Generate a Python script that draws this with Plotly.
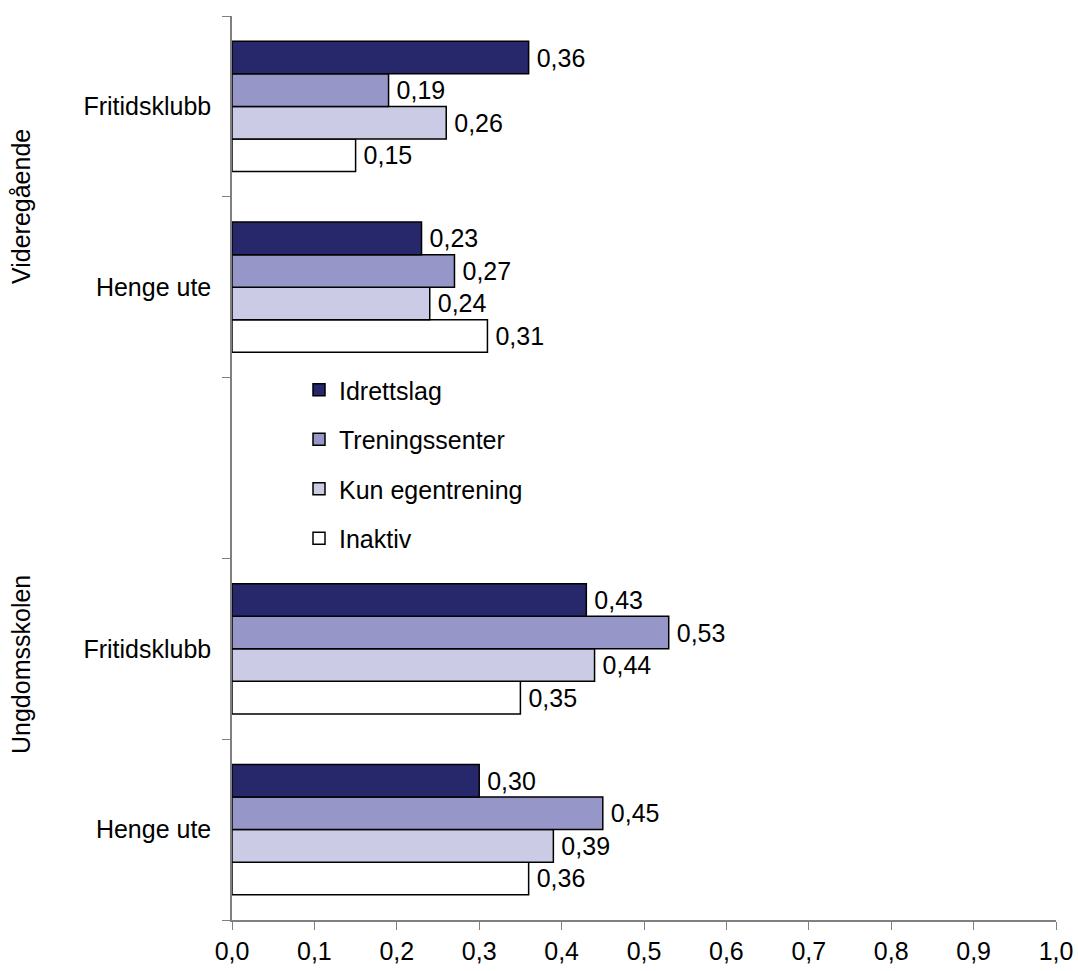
import plotly.graph_objects as go

# Category slots, bottom to top
slot_ids = ["U_Henge", "U_Frit", "gap", "V_Henge", "V_Frit"]
slot_labels = ["Henge ute", "Fritidsklubb", "", "Henge ute", "Fritidsklubb"]
bar_slots = ["U_Henge", "U_Frit", "V_Henge", "V_Frit"]

series_names = ["Idrettslag", "Treningssenter", "Kun egentrening", "Inaktiv"]
idrettslag = [0.30, 0.43, 0.23, 0.36]
treningssenter = [0.45, 0.53, 0.27, 0.19]
kun_egentrening = [0.39, 0.44, 0.24, 0.26]
inaktiv = [0.36, 0.35, 0.31, 0.15]
series_values = [idrettslag, treningssenter, kun_egentrening, inaktiv]
series_colors = ["#27276B", "#9696C8", "#CBCBE6", "#FFFFFF"]

group_labels = ["Videregående", "Ungdomsskolen"]

x_ticks = [0, 0.1, 0.2, 0.3, 0.4, 0.5, 0.6, 0.7, 0.8, 0.9, 1.0]

W, H = 1078, 971
L, R, T, B = 232, 22, 16, 51
FONT = "Liberation Sans, Arial, sans-serif"
FS = 25

fig = go.Figure()
# add bottom-most bar first (Inaktiv) so Idrettslag sits on top in each group
for i in reversed(range(4)):
    fig.add_trace(go.Bar(
        y=bar_slots, x=series_values[i], orientation="h",
        name=series_names[i], legendgroup=series_names[i], legendrank=i + 1,
        marker=dict(color=series_colors[i], line=dict(color="#000000", width=1.5)),
        texttemplate="\u2009%{x:.2f}", textposition="outside",
        textfont=dict(family=FONT, size=FS, color="#000000"),
        cliponaxis=False,
    ))

plot_w = W - L - R
plot_h = H - T - B
def px(pix):
    return (pix - L) / plot_w
def py(pix):
    return 1 - (pix - T) / plot_h

for txt, ypix in zip(group_labels, [207, 665]):
    fig.add_annotation(text=txt, xref="paper", yref="paper",
                       x=px(21), y=py(ypix), textangle=-90,
                       showarrow=False, xanchor="center", yanchor="middle",
                       font=dict(family=FONT, size=FS, color="#000000"))

fig.update_layout(
    width=W, height=H,
    margin=dict(l=L, r=R, t=T, b=B, autoexpand=False),
    paper_bgcolor="white", plot_bgcolor="white",
    barmode="group", bargap=0.28, bargroupgap=0,
    separators=", ",
    font=dict(family=FONT, size=FS, color="#000000"),
    showlegend=True,
    legend=dict(x=px(299), y=py(367), xanchor="left", yanchor="top",
                traceorder="grouped", tracegroupgap=14,
                font=dict(family=FONT, size=FS, color="#000000"),
                bgcolor="rgba(0,0,0,0)"),
    xaxis=dict(range=[0, 1.0], tickvals=x_ticks, tickformat=".1f", automargin=False,
               showgrid=False, zeroline=False, showline=True, linecolor="#808080",
               linewidth=1.5, ticks="outside", ticklen=8, tickcolor="#808080",
               tickfont=dict(family=FONT, size=FS, color="#000000")),
    yaxis=dict(type="category", categoryorder="array", categoryarray=slot_ids,
               tickmode="array", tickvals=slot_ids, ticktext=slot_labels,
               tickson="boundaries", range=[-0.5, 4.5], automargin=False,
               showgrid=False, zeroline=False, showline=True, linecolor="#808080",
               linewidth=1.5, ticks="outside", ticklen=8, tickcolor="#808080",
               ticklabelstandoff=14,
               tickfont=dict(family=FONT, size=FS, color="#000000")),
)

fig.write_html("out.html", config={"displayModeBar": False},
               post_script="document.body.style.margin='0px';document.body.style.overflow='hidden';")
